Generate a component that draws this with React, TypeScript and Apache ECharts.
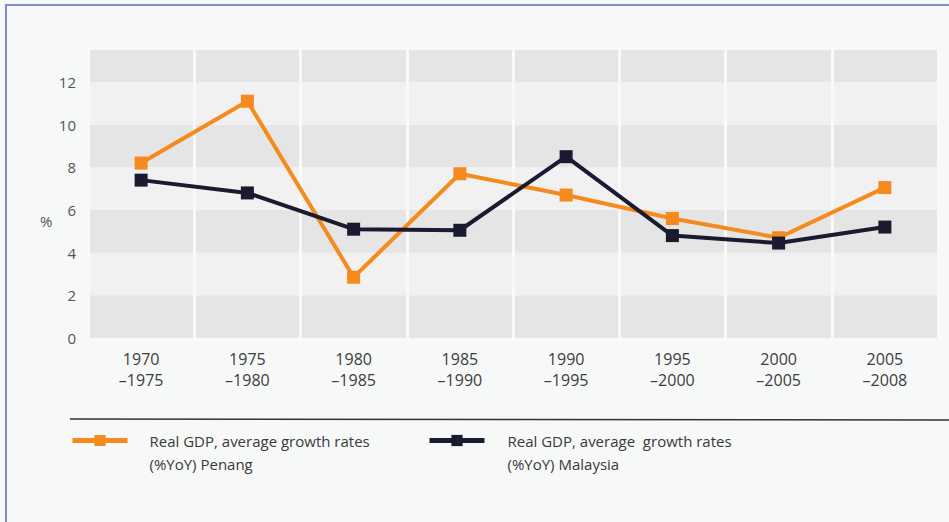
import React, { useEffect, useRef } from "react";
import * as echarts from "echarts";

const categories = ["1970\n–1975", "1975\n–1980", "1980\n–1985", "1985\n–1990", "1990\n–1995", "1995\n–2000", "2000\n–2005", "2005\n–2008"];
const penang = [8.2, 11.1, 2.85, 7.7, 6.7, 5.6, 4.7, 7.05];
const malaysia = [7.4, 6.8, 5.1, 5.05, 8.5, 4.8, 4.45, 5.2];
const penangName = "Real GDP, average growth rates\n(%YoY) Penang";
const malaysiaName = "Real GDP, average  growth rates\n(%YoY) Malaysia";

const FONT = "'Open Sans', 'Noto Sans', sans-serif";

export default function App() {
  const ref = useRef<HTMLDivElement>(null);
  useEffect(() => {
    if (!ref.current) return;
    const chart = echarts.init(ref.current, undefined, { renderer: "svg" });
    const legendCommon = (gap: string) => ({
      orient: "horizontal",
      padding: 0,
      itemWidth: 55,
      itemHeight: 14,
      lineStyle: { width: 5 },
      selectedMode: false,
      formatter: (name: string) => {
        const lines = name.split("\n");
        return "{s|}\n" + lines.map((l) => `{${gap}|}{t|${l}}`).join("\n");
      },
      textStyle: {
        fontFamily: FONT,
        fontSize: 15,
        color: "#3a3a3a",
        lineHeight: 23,
        rich: {
          s: { width: 1, lineHeight: 23, fontSize: 15 },
          ga: { width: 17, lineHeight: 23, fontSize: 15 },
          gb: { width: 18, lineHeight: 23, fontSize: 15 },
          t: { fontFamily: FONT, fontSize: 15, color: "#3a3a3a", lineHeight: 23 },
        },
      },
    });
    chart.setOption({
      animation: false,
      backgroundColor: "#f7f8f8",
      grid: { left: 88, right: 11, top: 50, bottom: 184 },
      xAxis: {
        type: "category",
        data: categories,
        boundaryGap: true,
        axisLine: { show: false },
        axisTick: { show: false },
        axisLabel: { fontFamily: FONT, fontSize: 16, color: "#3d3d3d", lineHeight: 21, margin: 10 },
        splitLine: { show: true, lineStyle: { color: "#f9f9f9", width: 3 } },
        z: 3,
      },
      yAxis: {
        type: "value",
        min: 0,
        max: 13.5,
        interval: 2,
        axisLine: { show: false },
        axisTick: { show: false },
        splitLine: { show: false },
        splitArea: { show: true, areaStyle: { color: ["#e5e5e5", "#f1f1f1"] } },
        axisLabel: {
          fontFamily: FONT,
          fontSize: 15,
          color: "#555",
          margin: 12,
          formatter: (v: number) => (v % 2 === 0 ? String(v) : ""),
        },
      },
      legend: [
        { ...legendCommon("ga"), left: 70, top: 406, data: [penangName] },
        { ...legendCommon("gb"), left: 427, top: 406, data: [malaysiaName] },
      ],
      graphic: [
        { type: "text", left: 40, top: 213, style: { text: "%", fontFamily: FONT, fontSize: 15, fill: "#555" } },
        { type: "line", shape: { x1: 70, y1: 419, x2: 949, y2: 420 }, style: { stroke: "#333", lineWidth: 1.5 } },
      ],
      series: [
        {
          name: penangName,
          type: "line",
          data: penang,
          color: "#f58a1e",
          lineStyle: { width: 4, color: "#f58a1e" },
          symbol: "rect",
          symbolSize: 13,
          itemStyle: { color: "#f58a1e" },
          z: 4,
        },
        {
          name: malaysiaName,
          type: "line",
          data: malaysia,
          color: "#1a1a30",
          lineStyle: { width: 4, color: "#1a1a30" },
          symbol: "rect",
          symbolSize: 13,
          itemStyle: { color: "#1a1a30" },
          z: 5,
        },
      ],
    });
    return () => chart.dispose();
  }, []);
  return (
    <div style={{ position: "fixed", left: 0, top: 0, width: 949, height: 522, background: "#f7f8f8" }}>
      <div ref={ref} style={{ position: "absolute", left: 0, top: 0, width: 949, height: 522 }} />
      <div
        style={{
          position: "absolute",
          left: 5,
          top: 4,
          width: 944,
          height: 518,
          borderTop: "2px solid #7d8dcc",
          borderLeft: "2px solid #7d8dcc",
          boxSizing: "border-box",
          pointerEvents: "none",
        }}
      />
    </div>
  );
}
